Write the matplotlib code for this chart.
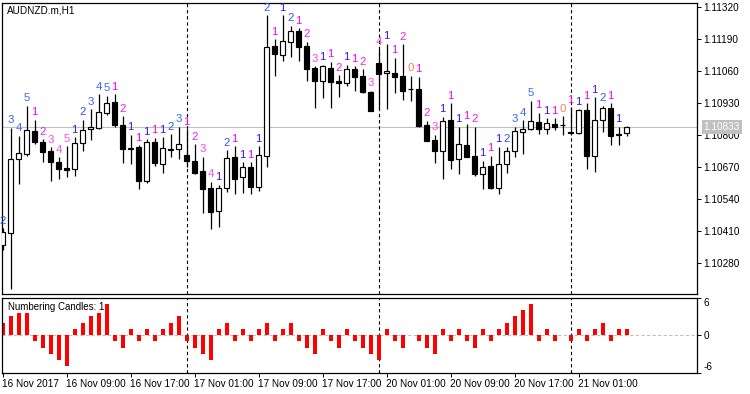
import matplotlib
matplotlib.use("Agg")
import matplotlib.pyplot as plt
import matplotlib.transforms as mtrans

# ---------------- data ----------------
symbol = "AUDNZD.m,H1"
indicator_name = "Numbering Candles: 1"
bid = 1.10833

opens = [1.10353, 1.10401, 1.10701, 1.10722, 1.10817, 1.10772, 1.10736, 1.10690, 1.10666, 1.10661,
         1.10766, 1.10823, 1.10830, 1.10889, 1.10933, 1.10839, 1.10744, 1.10752, 1.10612, 1.10770,
         1.10682, 1.10739, 1.10744, 1.10718, 1.10694, 1.10654, 1.10583, 1.10492, 1.10583, 1.10711,
         1.10628, 1.10669, 1.10588, 1.10715, 1.11162, 1.11124, 1.11179, 1.11223, 1.11162, 1.11071,
         1.11021, 1.11073, 1.11019, 1.11010, 1.11067, 1.11040, 1.10976, 1.11091, 1.11051, 1.11053,
         1.11040, 1.10986, 1.10987, 1.10841, 1.10780, 1.10736, 1.10861, 1.10701, 1.10758, 1.10715,
         1.10640, 1.10674, 1.10586, 1.10681, 1.10735, 1.10811, 1.10824, 1.10854, 1.10823, 1.10845,
         1.10841, 1.10812, 1.10809, 1.10902, 1.10715, 1.10861, 1.10908, 1.10800, 1.10807]
highs = [1.10422, 1.10830, 1.10796, 1.10919, 1.10861, 1.10783, 1.10750, 1.10709, 1.10755, 1.10791,
         1.10861, 1.10904, 1.10965, 1.10960, 1.10965, 1.10877, 1.10801, 1.10759, 1.10783, 1.10789,
         1.10791, 1.10804, 1.10834, 1.10824, 1.10762, 1.10712, 1.10610, 1.10597, 1.10739, 1.10755,
         1.10689, 1.10689, 1.10755, 1.11287, 1.11189, 1.11287, 1.11243, 1.11233, 1.11179, 1.11080,
         1.11086, 1.11097, 1.11042, 1.11086, 1.11079, 1.11067, 1.10980, 1.11148, 1.11170, 1.11114,
         1.11168, 1.11040, 1.11036, 1.10858, 1.10800, 1.10874, 1.10929, 1.10834, 1.10845, 1.10834,
         1.10696, 1.10715, 1.10752, 1.10752, 1.10834, 1.10860, 1.10939, 1.10891, 1.10868, 1.10868,
         1.10877, 1.10913, 1.10904, 1.10929, 1.10953, 1.10918, 1.10929, 1.10834, 1.10837]
lows = [1.10333, 1.10174, 1.10601, 1.10715, 1.10762, 1.10689, 1.10614, 1.10620, 1.10631, 1.10635,
        1.10736, 1.10780, 1.10823, 1.10883, 1.10832, 1.10688, 1.10681, 1.10579, 1.10606, 1.10674,
        1.10644, 1.10712, 1.10704, 1.10670, 1.10642, 1.10482, 1.10418, 1.10427, 1.10567, 1.10559,
        1.10566, 1.10559, 1.10574, 1.10671, 1.11040, 1.11102, 1.11118, 1.11102, 1.11021, 1.10908,
        1.10952, 1.10911, 1.10956, 1.11000, 1.10980, 1.10972, 1.10897, 1.10904, 1.10904, 1.10972,
        1.10942, 1.10939, 1.10832, 1.10774, 1.10685, 1.10621, 1.10661, 1.10640, 1.10709, 1.10635,
        1.10579, 1.10581, 1.10559, 1.10644, 1.10709, 1.10723, 1.10822, 1.10804, 1.10803, 1.10820,
        1.10800, 1.10806, 1.10806, 1.10661, 1.10648, 1.10813, 1.10759, 1.10759, 1.10796]
closes = [1.10407, 1.10701, 1.10726, 1.10820, 1.10770, 1.10730, 1.10689, 1.10663, 1.10659, 1.10766,
          1.10819, 1.10831, 1.10892, 1.10929, 1.10841, 1.10745, 1.10749, 1.10612, 1.10772, 1.10685,
          1.10746, 1.10744, 1.10763, 1.10696, 1.10647, 1.10582, 1.10488, 1.10583, 1.10705, 1.10622,
          1.10669, 1.10588, 1.10719, 1.11156, 1.11128, 1.11181, 1.11223, 1.11159, 1.11068, 1.11021,
          1.11080, 1.11017, 1.11013, 1.11068, 1.11034, 1.10976, 1.10899, 1.11048, 1.11060, 1.11037,
          1.10980, 1.10986, 1.10835, 1.10777, 1.10736, 1.10857, 1.10698, 1.10763, 1.10712, 1.10640,
          1.10671, 1.10586, 1.10681, 1.10736, 1.10816, 1.10823, 1.10857, 1.10823, 1.10848, 1.10834,
          1.10841, 1.10807, 1.10902, 1.10716, 1.10861, 1.10908, 1.10797, 1.10805, 1.10833]

# numbering labels above candles (signed: + bullish run, - bearish run, 0 doji, None = no label)
numbers = [2, 3, 4, 5, -1, -2, -3, -4, -5, 1, 2, 3, 4, 5, -1, -2, 1, -1, 1, -1,
           1, 2, 3, -1, -2, -3, -4, 1, 2, -1, 1, -1, 1, 2, -1, 1, 2, -1, -2, -3,
           1, -1, -2, 1, -1, -2, -3, -4, 1, -1, -2, 0, -1, -2, -3, 1, -1, 1, -1, -2,
           1, -1, 1, 2, 3, 4, 5, -1, 1, -1, 0, -1, 1, -1, 1, 2, -1, 1, None]

# histogram of the lower panel
hist = [2, 3, 4, 5, -1, -2, -3, -4, -5, 1, 2, 3, 4, 5, -1, -2, 1, -1, 1, -1,
        1, 2, 3, -1, -2, -3, -4, 1, 2, -1, 1, -1, 1, 2, -1, 1, 2, -1, -2, -3,
        1, -1, -2, 1, -1, -2, -3, -4, 1, -1, -2, 0, -1, -2, -3, 1, -1, 1, -1, -2,
        1, -1, 1, 2, 3, 4, 5, -1, 1, -1, 0, -1, 1, -1, 1, 2, -1, 1, 1]

price_ticks = [1.11320, 1.11190, 1.11060, 1.10930, 1.10800, 1.10670, 1.10540, 1.10410, 1.10280]
time_tick_idx = [0, 8, 16, 24, 32, 40, 48, 56, 64, 72]
time_tick_labels = ["16 Nov 2017", "16 Nov 09:00", "16 Nov 17:00", "17 Nov 01:00", "17 Nov 09:00",
                    "17 Nov 17:00", "20 Nov 01:00", "20 Nov 09:00", "20 Nov 17:00", "21 Nov 01:00"]
day_sep_idx = [23, 47, 71]
hist_ticks = [6, 0, -6]

bull_colors = {1: '#3A14EE', 2: '#2456E6', 3: '#3565F2', 4: '#3F6CF6', 5: '#3F6CFA'}
bear_colors = {1: '#FF00FF', 2: '#F21EF0', 3: '#FF46F0', 4: '#FF55EE', 5: '#FF55EE'}
zero_color = '#FF7F50'

# ---------------- figure ----------------
W, H = 750, 394
fig = plt.figure(figsize=(W / 100, H / 100), dpi=100)
fig.patch.set_facecolor('white')
FONT = 'Liberation Sans'

ax = fig.add_axes([2 / W, 100 / H, 695 / W, 291 / H])
ax2 = fig.add_axes([2 / W, 21.5 / H, 695 / W, 75 / H])

n = len(opens)
idx = list(range(n))
xl = (-0.0625, 86.8125)

# bid line
ax.axhline(bid, color='#C0C0C0', lw=0.8, zorder=1)

# day separators
for d in day_sep_idx:
    for a in (ax, ax2):
        a.axvline(d, color='black', lw=0.8, ls=(0, (3, 2.5)), zorder=1)

# wicks
ax.vlines(idx, lows, highs, color='black', lw=0.9, zorder=2)

# bodies
bw = 0.52
for i in idx:
    o, c = opens[i], closes[i]
    bottom = min(o, c)
    height = max(abs(c - o), 0.000012)
    fc = 'white' if c >= o else 'black'
    ax.bar(i, height, bottom=bottom, width=bw, facecolor=fc, edgecolor='black',
           linewidth=0.85, zorder=3)

# numbers above candles
for i in idx:
    v = numbers[i]
    if v is None:
        continue
    if v > 0:
        col = bull_colors[min(v, 5)]
    elif v < 0:
        col = bear_colors[min(-v, 5)]
    else:
        col = zero_color
    t = ax.annotate(str(abs(v)), xy=(i, highs[i]), xytext=(0, 1.8), textcoords='offset points',
                    ha='center', va='bottom', color=col, fontsize=8.2, family=FONT,
                    annotation_clip=False, zorder=4)
    t.set_clip_on(True)

ax.set_xlim(*xl)
ax.set_ylim(1.10154, 1.113362)

# price axis on right
ax.yaxis.tick_right()
ax.set_yticks(price_ticks)
ax.set_yticklabels([f"{p:.5f}" for p in price_ticks], family=FONT, fontsize=7.2)
ax.tick_params(axis='y', direction='out', length=2.8, width=0.7, pad=2, colors='black')
ax.set_xticks([])
for s in ax.spines.values():
    s.set_linewidth(0.9)

# bid tag
ax.annotate(f"{bid:.5f}", xy=(1.0, bid), xycoords=('axes fraction', 'data'),
            xytext=(4.6, 0), textcoords='offset points', ha='left', va='center',
            color='white', fontsize=7.2, family=FONT, annotation_clip=False,
            bbox=dict(boxstyle='square,pad=0.18', fc='#C0C0C0', ec='none'), zorder=10)

fig.text(7 / W, 1 - 10.5 / H, symbol, ha='left', va='center', fontsize=7.2, family=FONT)

# ---------------- indicator panel ----------------
ax2.axhline(0, color='#C0C0C0', lw=0.8, ls=(0, (3, 2)), zorder=1)
ax2.bar(idx, hist, width=0.5, color='#FF0000', zorder=2)
ax2.set_xlim(*xl)
ax2.set_ylim(-6, 6)
ax2.yaxis.tick_right()
ax2.set_yticks(hist_ticks)
ax2.set_yticklabels([str(v) for v in hist_ticks], family=FONT, fontsize=7.2)
lbls = ax2.get_yticklabels()
lbls[0].set_va('top')
lbls[2].set_va('bottom')
ax2.tick_params(axis='y', direction='out', length=2.8, width=0.7, pad=2)
ax2.set_xticks(time_tick_idx)
ax2.set_xticklabels(time_tick_labels, family=FONT, fontsize=7.2)
for lb in ax2.get_xticklabels():
    lb.set_ha('left')
ax2.tick_params(axis='x', direction='out', length=3, width=0.7, pad=1.5)
for s in ax2.spines.values():
    s.set_linewidth(0.9)

ax2.text(6 / 695, 0.87, indicator_name, transform=ax2.transAxes, ha='left', va='center',
         fontsize=7.0, family=FONT, zorder=5,
         bbox=dict(boxstyle='square,pad=0.05', fc='white', ec='none'))

fig.savefig('out.png', dpi=100)
